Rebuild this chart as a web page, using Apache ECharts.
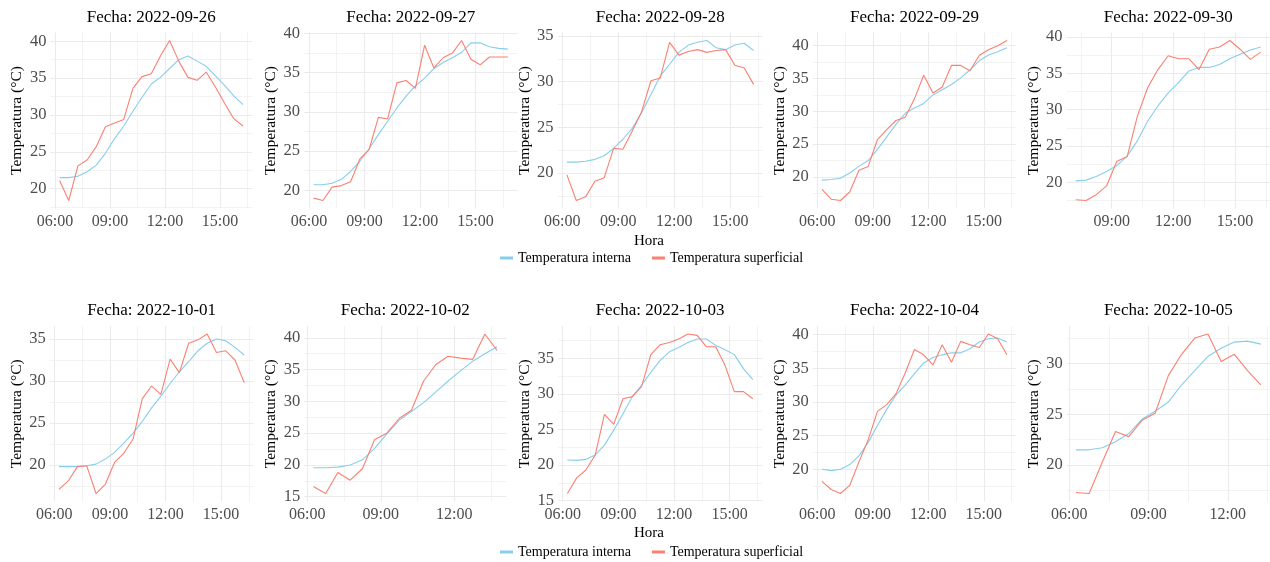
<!DOCTYPE html>
<html>
<head>
<meta charset="utf-8">
<script src="https://cdn.jsdelivr.net/npm/echarts@6/dist/echarts.min.js"></script>
<style>
    html, body { margin: 0; padding: 0; background: #ffffff; }
    #main { width: 1270px; height: 562px; }
</style>
</head>
<body>
<div id="main"></div>
<script>
// fechas de cada panel
let fechas = ['2022-09-26', '2022-09-27', '2022-09-28', '2022-09-29', '2022-09-30',
              '2022-10-01', '2022-10-02', '2022-10-03', '2022-10-04', '2022-10-05'];

// horas de medicion
let horasDia = ['06:15', '06:45', '07:15', '07:45', '08:15', '08:45', '09:15', '09:45', '10:15', '10:45', '11:15',
                '11:45', '12:15', '12:45', '13:15', '13:45', '14:15', '14:45', '15:15', '15:45', '16:15'];
let horas0927 = ['06:15', '06:45', '07:15', '07:45', '08:15', '08:45', '09:15', '09:45', '10:15', '10:45', '11:15',
                 '11:45', '12:15', '12:45', '13:15', '13:45', '14:15', '14:45', '15:15', '15:45', '16:15', '16:45'];
let horas0930 = ['07:15', '07:45', '08:15', '08:45', '09:15', '09:45', '10:15', '10:45', '11:15', '11:45',
                 '12:15', '12:45', '13:15', '13:45', '14:15', '14:45', '15:15', '15:45', '16:15'];
let horas1002 = ['06:15', '06:45', '07:15', '07:45', '08:15', '08:45', '09:15', '09:45',
                 '10:15', '10:45', '11:15', '11:45', '12:15', '12:45', '13:15', '13:45'];
let horas1005 = ['06:15', '06:45', '07:15', '07:45', '08:15', '08:45', '09:15', '09:45',
                 '10:15', '10:45', '11:15', '11:45', '12:15', '12:45', '13:15'];

// temperaturas (°C)
let interna0926 = [21.5, 21.5, 21.7, 22.3, 23.2, 24.8, 26.8, 28.5, 30.5, 32.4, 34.2, 35.1, 36.3, 37.5, 38.0, 37.3, 36.6, 35.3, 34.0, 32.6, 31.4];
let superficial0926 = [21.1, 18.4, 23.1, 23.9, 25.7, 28.4, 28.9, 29.4, 33.6, 35.2, 35.6, 38.0, 40.1, 37.3, 35.1, 34.7, 35.8, 33.8, 31.6, 29.5, 28.5];

let interna0927 = [20.7, 20.7, 20.9, 21.4, 22.4, 23.7, 25.3, 27.1, 28.8, 30.5, 32.0, 33.3, 34.3, 35.5, 36.3, 36.9, 37.6, 38.8, 38.8, 38.3, 38.1, 38.0];
let superficial0927 = [19.0, 18.7, 20.4, 20.6, 21.1, 24.0, 25.2, 29.3, 29.1, 33.7, 34.0, 33.0, 38.5, 35.6, 36.9, 37.5, 39.1, 36.7, 36.0, 37.0, 37.0, 37.0];

let interna0928 = [21.2, 21.2, 21.3, 21.5, 21.9, 22.7, 23.7, 24.9, 26.6, 28.6, 30.6, 31.9, 33.2, 34.0, 34.3, 34.5, 33.7, 33.5, 34.0, 34.2, 33.4];
let superficial0928 = [19.8, 17.0, 17.4, 19.1, 19.5, 22.7, 22.6, 24.6, 26.7, 30.1, 30.4, 34.3, 32.9, 33.3, 33.5, 33.2, 33.4, 33.5, 31.8, 31.5, 29.7];

let interna0929 = [19.5, 19.6, 19.8, 20.6, 21.6, 22.5, 24.2, 26.1, 28.0, 29.7, 30.5, 31.2, 32.5, 33.3, 34.1, 35.1, 36.3, 37.7, 38.6, 39.1, 39.7];
let superficial0929 = [18.1, 16.6, 16.4, 17.7, 21.0, 21.6, 25.7, 27.2, 28.6, 29.1, 31.9, 35.5, 32.8, 33.7, 37.0, 37.0, 36.2, 38.5, 39.4, 40.0, 40.8];

let interna0930 = [20.2, 20.3, 20.8, 21.5, 22.3, 23.6, 25.7, 28.4, 30.5, 32.3, 33.7, 35.3, 35.8, 35.8, 36.2, 37.0, 37.6, 38.2, 38.6];
let superficial0930 = [17.6, 17.5, 18.3, 19.5, 22.9, 23.5, 29.1, 33.0, 35.5, 37.4, 37.0, 37.0, 35.5, 38.3, 38.6, 39.5, 38.3, 36.9, 37.9];

let interna1001 = [19.8, 19.8, 19.8, 19.9, 20.1, 20.7, 21.5, 22.6, 23.8, 25.2, 26.8, 28.2, 29.7, 31.1, 32.3, 33.6, 34.5, 35.0, 34.8, 34.0, 33.1];
let superficial1001 = [17.1, 18.1, 19.8, 19.9, 16.6, 17.7, 20.3, 21.4, 23.1, 27.9, 29.4, 28.4, 32.6, 31.0, 34.5, 34.9, 35.6, 33.4, 33.6, 32.5, 29.8];

let interna1002 = [19.55, 19.55, 19.65, 20.0, 20.8, 22.6, 24.9, 27.0, 28.4, 29.8, 31.5, 33.2, 34.8, 36.3, 37.5, 38.6];
let superficial1002 = [16.6, 15.5, 18.8, 17.6, 19.4, 24.0, 25.0, 27.3, 28.6, 33.2, 35.8, 37.1, 36.8, 36.6, 40.6, 38.0];

let interna1003 = [20.7, 20.65, 20.8, 21.4, 22.8, 24.9, 27.2, 29.6, 31.2, 33.0, 34.7, 35.9, 36.5, 37.2, 37.7, 37.7, 36.8, 36.2, 35.5, 33.5, 32.0];
let superficial1003 = [16.0, 18.2, 19.3, 21.4, 27.1, 25.7, 29.3, 29.6, 31.0, 35.5, 36.9, 37.2, 37.7, 38.4, 38.2, 36.6, 36.6, 34.0, 30.3, 30.3, 29.3];

let interna1004 = [20.0, 19.8, 20.0, 20.7, 22.0, 24.0, 26.5, 28.9, 31.0, 32.5, 34.2, 35.8, 36.6, 37.0, 37.3, 37.3, 37.9, 38.9, 39.4, 39.5, 38.9];
let superficial1004 = [18.2, 17.0, 16.4, 17.6, 21.1, 24.4, 28.6, 29.6, 31.2, 34.3, 37.8, 37.0, 35.5, 38.5, 35.9, 39.0, 38.5, 38.1, 40.1, 39.4, 37.0];

let interna1005 = [21.5, 21.5, 21.7, 22.3, 23.1, 24.5, 25.3, 26.2, 27.9, 29.3, 30.7, 31.5, 32.1, 32.2, 31.9];
let superficial1005 = [17.3, 17.2, 20.3, 23.3, 22.8, 24.4, 25.1, 28.8, 30.9, 32.5, 32.9, 30.2, 30.9, 29.3, 27.9];

let nombres = ['Temperatura interna', 'Temperatura superficial'];
let colores = ['#87ceeb', '#fa8072'];

let paneles = [
    {horas: horasDia, interna: interna0926, superficial: superficial0926},
    {horas: horas0927, interna: interna0927, superficial: superficial0927},
    {horas: horasDia, interna: interna0928, superficial: superficial0928},
    {horas: horasDia, interna: interna0929, superficial: superficial0929},
    {horas: horas0930, interna: interna0930, superficial: superficial0930},
    {horas: horasDia, interna: interna1001, superficial: superficial1001},
    {horas: horas1002, interna: interna1002, superficial: superficial1002},
    {horas: horasDia, interna: interna1003, superficial: superficial1003},
    {horas: horasDia, interna: interna1004, superficial: superficial1004},
    {horas: horas1005, interna: interna1005, superficial: superficial1005}
];

// posicion de cada panel: left, top, width, height
let cajas = [
    [50.4, 32.5, 201.7, 176], [303.9, 32.5, 213.7, 176], [557.6, 32.5, 205.3, 176], [812.7, 32.5, 203.5, 176], [1066.5, 32.5, 203.4, 176],
    [49.7, 326, 203.8, 175.5], [304.2, 326, 202.1, 175.5], [558.1, 326, 204, 175.5], [812.7, 326, 203.5, 175.5], [1066.7, 326, 203.3, 175.5]
];

let fuente = 'Liberation Serif';
let gris = '#ebebeb';

// "06:15" -> 6.25
function aHoras(txt) {
    let partes = txt.split(':');
    return Number(partes[0]) + Number(partes[1]) / 60;
}

function fmtHora(v) {
    return (v < 10 ? '0' : '') + v + ':00';
}

// rango con 5% de margen como ggplot
function expandir(valores) {
    let lo = Math.min.apply(null, valores);
    let hi = Math.max.apply(null, valores);
    let d = (hi - lo) * 0.05;
    return [lo - d, hi + d];
}

// marcas multiplos de paso (+ desfase) dentro del rango
function marcas(r, paso, desfase) {
    let res = [];
    let v = Math.ceil((r[0] - desfase) / paso) * paso + desfase;
    for (; v <= r[1] + 1e-9; v += paso) {
        res.push(v);
    }
    return res;
}

let grids = [], xAxes = [], yAxes = [], series = [], graficos = [];

paneles.forEach(function (p, i) {
    let c = cajas[i];
    grids.push({left: c[0], top: c[1], width: c[2], height: c[3], containLabel: false, outerBoundsMode: 'none'});

    let xs = p.horas.map(aHoras);
    let rx = expandir(xs);
    let ry = expandir(p.interna.concat(p.superficial));
    let xMayor = marcas(rx, 3, 0), xMenor = marcas(rx, 3, 1.5);
    let yMayor = marcas(ry, 5, 0), yMenor = marcas(ry, 5, 2.5);

    // eje x principal
    xAxes.push({
        type: 'value', gridIndex: i, min: rx[0], max: rx[1],
        axisLine: {show: false},
        axisTick: {show: false, customValues: xMayor},
        axisLabel: {customValues: xMayor, formatter: fmtHora, color: '#4d4d4d', fontFamily: fuente, fontSize: 16, margin: 5},
        splitLine: {show: true, lineStyle: {color: gris, width: 1.1}}
    });
    // eje x secundario (lineas menores)
    xAxes.push({
        type: 'value', gridIndex: i, min: rx[0], max: rx[1],
        axisLine: {show: false},
        axisTick: {show: false, customValues: xMenor},
        axisLabel: {show: false},
        splitLine: {show: true, lineStyle: {color: gris, width: 0.6}}
    });
    // eje y principal
    yAxes.push({
        type: 'value', gridIndex: i, min: ry[0], max: ry[1],
        name: 'Temperatura (°C)', nameLocation: 'middle', nameGap: 25,
        nameTextStyle: {color: '#000000', fontFamily: fuente, fontSize: 15.5},
        axisLine: {show: false},
        axisTick: {show: false, customValues: yMayor},
        axisLabel: {customValues: yMayor, color: '#4d4d4d', fontFamily: fuente, fontSize: 16.5, margin: 4},
        splitLine: {show: true, lineStyle: {color: gris, width: 1.1}}
    });
    // eje y secundario
    yAxes.push({
        type: 'value', gridIndex: i, min: ry[0], max: ry[1],
        axisLine: {show: false},
        axisTick: {show: false, customValues: yMenor},
        axisLabel: {show: false},
        splitLine: {show: true, lineStyle: {color: gris, width: 0.6}}
    });

    let datos = [p.interna, p.superficial];
    for (let s = 0; s < 2; s++) {
        series.push({
            name: nombres[s], type: 'line', xAxisIndex: 2 * i, yAxisIndex: 2 * i,
            data: xs.map(function (x, k) { return [x, datos[s][k]]; }),
            showSymbol: false, symbol: 'none',
            lineStyle: {color: colores[s], width: 1.1},
            itemStyle: {color: colores[s]}
        });
    }

    // titulo del panel
    graficos.push({
        type: 'text', x: c[0] + c[2] / 2, y: i < 5 ? 17.5 : 310.5,
        style: {text: 'Fecha: ' + fechas[i], fill: '#000000', font: '17px "' + fuente + '"', align: 'center', verticalAlign: 'middle'}
    });
});

// titulo del eje x (una vez por fila)
graficos.push({type: 'text', x: 649, y: 241, style: {text: 'Hora', fill: '#000000', font: '15px "' + fuente + '"', align: 'center', verticalAlign: 'middle'}});
graficos.push({type: 'text', x: 649, y: 533, style: {text: 'Hora', fill: '#000000', font: '15px "' + fuente + '"', align: 'center', verticalAlign: 'middle'}});

function leyenda(top) {
    return {
        data: nombres, left: 495, top: top, orient: 'horizontal',
        icon: 'rect', itemWidth: 13, itemHeight: 3, itemGap: 21,
        textStyle: {color: '#000000', fontFamily: fuente, fontSize: 14},
        selectedMode: false
    };
}

let myChart = echarts.init(document.getElementById('main'));
let option = {
    animation: false,
    backgroundColor: '#ffffff',
    grid: grids,
    xAxis: xAxes,
    yAxis: yAxes,
    legend: [leyenda(246), leyenda(540)],
    series: series,
    graphic: graficos
};
myChart.setOption(option);
</script>
</body>
</html>
